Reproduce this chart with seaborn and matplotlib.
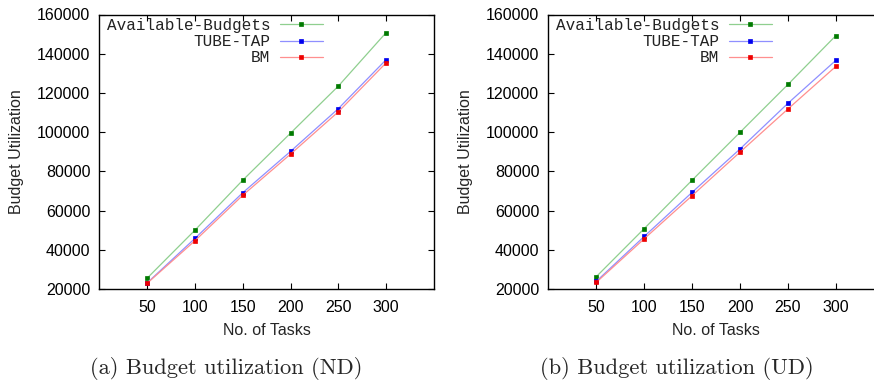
import matplotlib
matplotlib.use("Agg")
import matplotlib.pyplot as plt
import seaborn as sns
import pandas as pd

sns.set_style("ticks")
plt.rcParams['font.family'] = ['Liberation Sans', 'DejaVu Sans']

tasks = [50, 100, 150, 200, 250, 300]
series_names = ["Available-Budgets", "TUBE-TAP", "BM"]

nd_available = [25500, 50000, 75500, 99500, 123500, 150800]
nd_tube = [23100, 45800, 69100, 90200, 112000, 137000]
nd_bm = [22900, 44600, 67800, 88800, 110400, 135400]

ud_available = [26300, 50800, 75500, 99900, 124300, 149200]
ud_tube = [23900, 46800, 69300, 91400, 114700, 136600]
ud_bm = [23400, 45600, 67600, 89800, 111800, 133500]

captions = ["(a) Budget utilization (ND)", "(b) Budget utilization (UD)"]

line_colors = ["#8fcf8f", "#8f8fff", "#ff8f8f"]
marker_colors = ["#007a00", "#0000ee", "#ee0000"]

W, H = 874, 380
fig = plt.figure(figsize=(W / 100, H / 100), dpi=100)

def px_axes(x0, y0, x1, y1):
    return fig.add_axes([x0 / W, 1 - y1 / H, (x1 - x0) / W, (y1 - y0) / H])

ax1 = px_axes(99.3, 14.5, 434, 289)
ax2 = px_axes(548.4, 14.5, 548.4 + 350 * 0.958, 289)

panels = [
    (ax1, [nd_available, nd_tube, nd_bm], 323, captions[0], 226.5),
    (ax2, [ud_available, ud_tube, ud_bm], 772, captions[1], 676.5),
]

FS = 11.5

for ax, vals, leg_x, cap, cap_x in panels:
    for name, v, lc, mc in zip(series_names, vals, line_colors, marker_colors):
        df = pd.DataFrame({"tasks": tasks, "value": v})
        sns.lineplot(data=df, x="tasks", y="value", ax=ax, color=lc, lw=0.9,
                     marker="s", markersize=3.0, markerfacecolor=mc,
                     markeredgecolor=mc, markeredgewidth=0.5, label=name)
    ax.set_xlim(0, 350)
    ax.set_ylim(20000, 160000)
    ax.set_xticks(tasks)
    ax.set_yticks(range(20000, 160001, 20000))
    ax.tick_params(direction="in", top=True, right=True, length=4, width=0.8,
                   labelsize=FS, colors="black")
    ax.tick_params(axis="y", pad=6.5)
    ax.tick_params(axis="x", pad=8)
    for s in ax.spines.values():
        s.set_linewidth(1.0)
        s.set_color("black")
        s.set_visible(True)
    ax.set_xlabel("No. of Tasks", fontsize=FS, labelpad=5.5)
    ax.set_ylabel("Budget Utilization", fontsize=FS, labelpad=9)
    ax.grid(False)
    leg = ax.legend(loc="upper right", bbox_to_anchor=(leg_x / W, 1 - 18 / H),
                    bbox_transform=fig.transFigure, frameon=False,
                    markerfirst=False, handlelength=2.7, handletextpad=0.6,
                    borderpad=0, borderaxespad=0, labelspacing=0.07,
                    prop={"family": "Liberation Mono", "size": 11.5})
    for t in leg.get_texts():
        t.set_color("#222222")
    fig.text(cap_x / W, 1 - 368 / H, cap, ha="center", va="center",
             fontsize=16.2, family="cmr10")

fig.savefig("out.png", dpi=100)
